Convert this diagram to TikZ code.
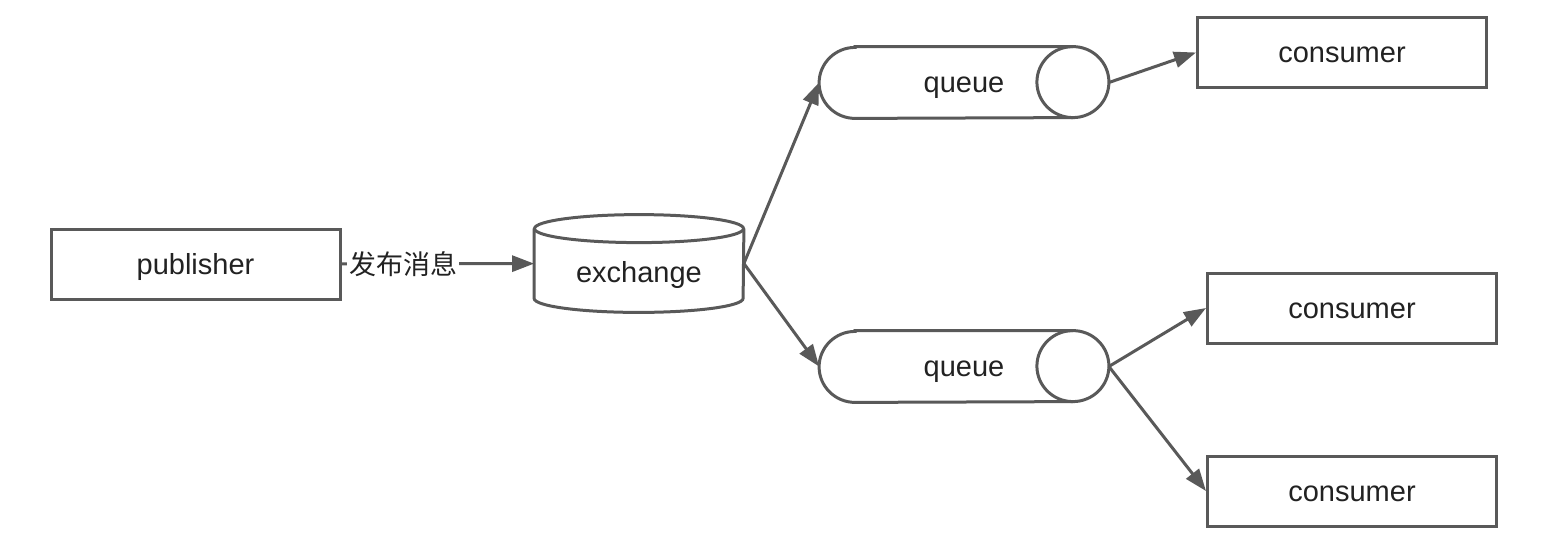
\documentclass[tikz,border=0pt]{standalone}
\usepackage{fontspec}
\setmainfont{Liberation Sans}
\newfontfamily\cjkfont{Noto Sans CJK SC}
\usetikzlibrary{arrows.meta,positioning}
\definecolor{mqline}{HTML}{595959}
\definecolor{mqtext}{HTML}{222222}
\tikzset{
  mqbox/.style={draw=mqline,line width=1.5pt,fill=white,minimum width=144.5pt,minimum height=35pt,inner sep=0pt,text height=10pt,text depth=0pt,font=\fontsize{14.5}{16}\selectfont,text=mqtext},
  mqqueue/.style={minimum width=144.5pt,minimum height=35.5pt,inner sep=0pt,text height=10pt,text depth=0pt,font=\fontsize{14.5}{16}\selectfont,text=mqtext},
  mqexch/.style={minimum width=104.5pt,minimum height=48.5pt,inner sep=0pt},
  mqshape/.style={draw=mqline,line width=1.5pt},
  mqarrow/.style={-{Triangle[length=11pt,width=8pt]},draw=mqline,line width=1.5pt},
  mqlabel/.style={fill=white,inner sep=1pt,font=\fontsize{13.5}{16}\cjkfont,text=mqtext},
  mqinner/.style={text height=10pt,text depth=0pt,font=\fontsize{14.5}{16}\selectfont,text=mqtext}
}
\begin{document}
\begin{tikzpicture}[x=0.5pt,y=-0.5pt]
\useasboundingbox (0,0) rectangle (1548,542);
\node[mqbox] (pub) at (195.5,264) {publisher};
\node[mqexch,label={[mqinner,yshift=-4.5pt]center:exchange}] (exch) at (639,263.5) {};
\node[mqqueue] (q1) at (964,82.5) {queue};
\node[mqqueue] (q2) at (964,366.5) {queue};
\node[mqbox] (c1) at (1342,52.5) {consumer};
\node[mqbox] (c2) at (1352,308) {consumer};
\node[mqbox] (c3) at (1352,491) {consumer};
% cylinder outlines
\draw[mqshape] ([yshift=-7pt]exch.north west) -- ([yshift=7pt]exch.south west)
  arc[start angle=180,end angle=360,x radius=52.25pt,y radius=7pt]
  -- ([yshift=-7pt]exch.north east);
\draw[mqshape] ([yshift=-7pt]exch.north) ellipse[x radius=52.25pt,y radius=7pt];
\foreach \q in {q1,q2}{
  \draw[mqshape] ([xshift=18pt]\q.north west) -- ([xshift=-18pt]\q.north east)
    arc[start angle=90,end angle=-90,x radius=18pt,y radius=17.75pt]
    -- ([xshift=18pt]\q.south west)
    arc[start angle=270,end angle=90,x radius=18pt,y radius=17.75pt] -- cycle;
  \draw[mqshape] ([xshift=-18pt]\q.north east)
    arc[start angle=90,end angle=270,x radius=18pt,y radius=17.75pt];
}
% connectors
\draw[mqarrow] (pub) -- node[mqlabel,pos=0.32]{发布消息} (exch);
\draw[mqarrow] (exch.east) -- (q1.west);
\draw[mqarrow] (exch.east) -- (q2.west);
\draw[mqarrow] (q1.east) -- (c1.west);
\draw[mqarrow] (q2.east) -- (c2.west);
\draw[mqarrow] (q2.east) -- (c3.west);
\end{tikzpicture}
\end{document}
